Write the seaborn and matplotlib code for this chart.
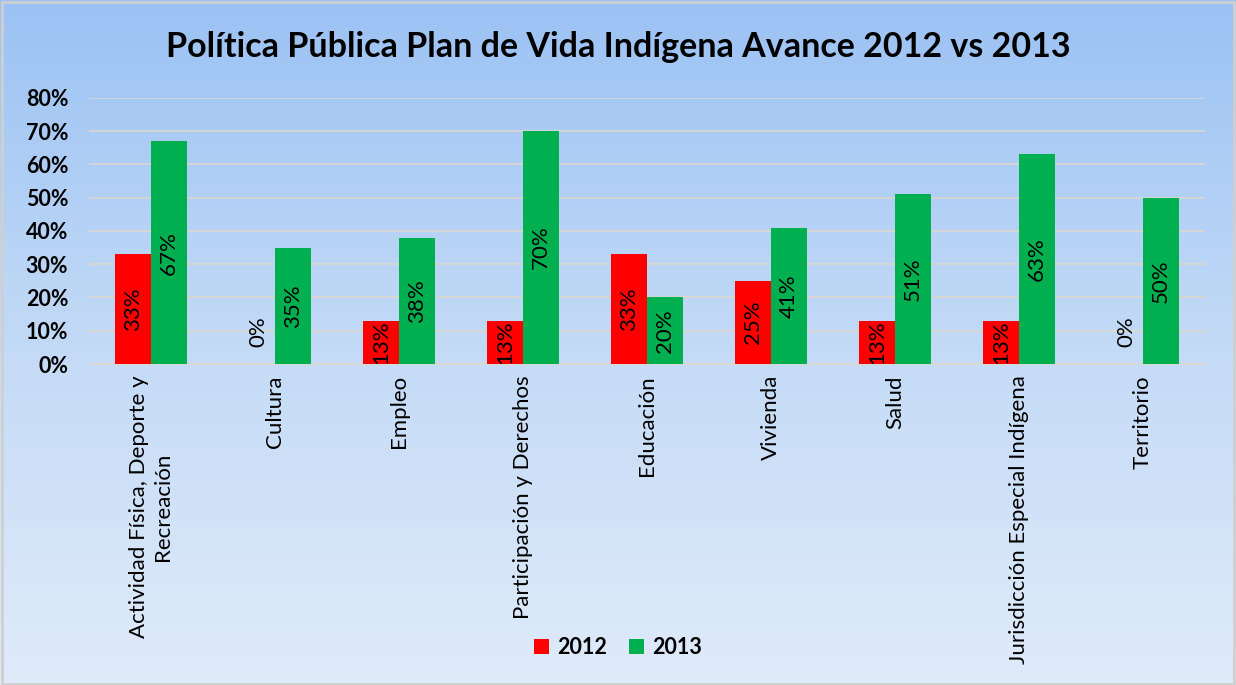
import numpy as np
import pandas as pd
import seaborn as sns
import matplotlib.pyplot as plt
from matplotlib.colors import LinearSegmentedColormap
from matplotlib.patches import Rectangle

# ================= DATA =================
categorias = [
    "Actividad Física, Deporte y\nRecreación",
    "Cultura",
    "Empleo",
    "Participación y Derechos",
    "Educación",
    "Vivienda",
    "Salud",
    "Jurisdicción Especial Indígena",
    "Territorio",
]
avance_2012 = [0.33, 0.00, 0.13, 0.13, 0.33, 0.25, 0.13, 0.13, 0.00]
avance_2013 = [0.67, 0.35, 0.38, 0.70, 0.20, 0.41, 0.51, 0.63, 0.50]
anios = ["2012", "2013"]
colores = {"2012": "#ff0000", "2013": "#00b050"}
y_ticks = [0, 0.1, 0.2, 0.3, 0.4, 0.5, 0.6, 0.7, 0.8]

df = pd.DataFrame({
    "categoria": categorias * 2,
    "anio": [anios[0]] * len(categorias) + [anios[1]] * len(categorias),
    "valor": avance_2012 + avance_2013,
})

# ================= FIGURE =================
sns.set_theme(style="white")
plt.rcParams["font.family"] = ["Lato", "DejaVu Sans"]
plt.rcParams["text.color"] = "black"
plt.rcParams["xtick.color"] = "black"
plt.rcParams["ytick.color"] = "black"

fig = plt.figure(figsize=(12.36, 6.85), dpi=100)

# gradient background
bg = fig.add_axes([0, 0, 1, 1], zorder=-10)
cmap_bg = LinearSegmentedColormap.from_list("bg", ["#9bc2f4", "#c3daf6", "#e0ebfa"])
bg.imshow(np.linspace(0, 1, 256).reshape(-1, 1), aspect="auto", cmap=cmap_bg,
          extent=[0, 1, 0, 1])
bg.set_axis_off()
fig.patches.append(Rectangle((0.002, 0.002), 0.996, 0.995, transform=fig.transFigure,
                             fill=False, edgecolor="#cfcfcf", linewidth=2))

ax = fig.add_axes([0.072, 0.4686, 0.903, 0.3884])
ax.patch.set_alpha(0)

sns.barplot(data=df, x="categoria", y="valor", hue="anio", palette=colores,
            width=0.58, gap=0, saturation=1, linewidth=0, ax=ax, legend=True, zorder=3)

# ================= LABELS =================
for cont in ax.containers:
    for bar in cont:
        h = bar.get_height()
        xc = bar.get_x() + bar.get_width() / 2
        if h > 0:
            ax.text(xc, h / 2, f"{h:.0%}", rotation=90, ha="center", va="center",
                    fontsize=16, color="black", zorder=5)
        else:
            ax.annotate(f"{h:.0%}", (xc, 0), xytext=(1, 23), textcoords="offset points",
                        rotation=90, ha="center", va="center", fontsize=16, zorder=5)

ax.set_ylim(0, 0.8)
ax.set_yticks(y_ticks)
ax.set_yticklabels([f"{t:.0%}" for t in y_ticks], fontsize=15.5, fontweight="bold")
ax.set_xlim(-0.5, len(categorias) - 0.5)
ax.tick_params(axis="x", labelsize=16, rotation=90, length=0, pad=8)
ax.tick_params(axis="y", length=0, pad=15)
for lbl in ax.get_xticklabels():
    lbl.set_ha("center")
    lbl.set_va("top")
    lbl.set_multialignment("center")

ax.grid(axis="y", color="#dcd8cf", linewidth=1.2, zorder=0)
ax.set_axisbelow(True)
for s in ["top", "right", "left"]:
    ax.spines[s].set_visible(False)
ax.spines["bottom"].set_color("#dcd8cf")
ax.set_xlabel("")
ax.set_ylabel("")

fig.suptitle("Política Pública Plan de Vida Indígena Avance 2012 vs 2013",
             fontsize=24.5, fontweight="bold", y=0.931, va="center")

ax.legend(loc="center", bbox_to_anchor=(0.5, 0.055), bbox_transform=fig.transFigure,
          ncol=2, frameon=False, handlelength=0.7, handleheight=0.7, handletextpad=0.4,
          columnspacing=1.0, prop={"weight": "bold", "size": 15.5})

fig.savefig("out.png", dpi=100)
